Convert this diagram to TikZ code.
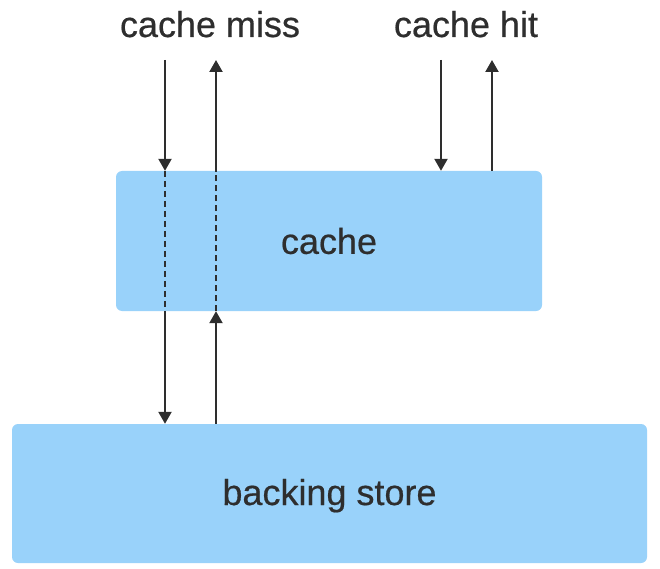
\documentclass[tikz,border=0pt]{standalone}
\usepackage{fontspec}
\setmainfont{Liberation Sans}
\newfontfamily\labelfont[FakeBold=0.5]{Liberation Sans}
\usetikzlibrary{calc,positioning}
\usetikzlibrary{arrows.meta}
\definecolor{boxblue}{HTML}{99D2FA}
\definecolor{inkgray}{HTML}{2E2E2E}

\begin{document}
\begin{tikzpicture}%
  [x=1pt, y=-1pt, text=inkgray, node font=\labelfont\fontsize{36}{40}\selectfont,
   box/.style={rectangle, fill=boxblue, rounded corners=6pt, inner sep=0pt},
   flow/.style={draw=inkgray, line width=2.2pt, -{Triangle[width=13pt,length=12pt]}},
   through/.style={draw=inkgray, line width=2.2pt, dash pattern=on 6pt off 4pt}]

  \useasboundingbox (0,0) rectangle (660,569);

  \node (cache) at (329,241) [box, minimum width=426pt, minimum height=140pt] {cache};
  \node (store) at (329.5,493.5) [box, minimum width=635pt, minimum height=139pt,
                                  text height=26pt, text depth=3pt] {backing store};

  \node (miss) at (210,37) [anchor=base] {cache miss};
  \node (hit) at (466,37) [anchor=base] {cache hit};

  % free ends below the labels
  \coordinate (missdown) at (165,60);
  \coordinate (missup) at (216,60);
  \coordinate (hitdown) at (441,60);
  \coordinate (hitup) at (492,60);

  % cache miss: down through the cache to the store and back up
  \draw[flow] (missdown) -- (missdown |- cache.north);
  \draw[through] (missdown |- cache.north) -- (missdown |- cache.south);
  \draw[flow] (missdown |- cache.south) -- (missdown |- store.north);

  \draw[flow] (missup |- store.north) -- (missup |- cache.south);
  \draw[through] (missup |- cache.south) -- (missup |- cache.north);
  \draw[flow] (missup |- cache.north) -- (missup);

  % cache hit: served by the cache
  \draw[flow] (hitdown) -- (hitdown |- cache.north);
  \draw[flow] (hitup |- cache.north) -- (hitup);

\end{tikzpicture}
\end{document}
